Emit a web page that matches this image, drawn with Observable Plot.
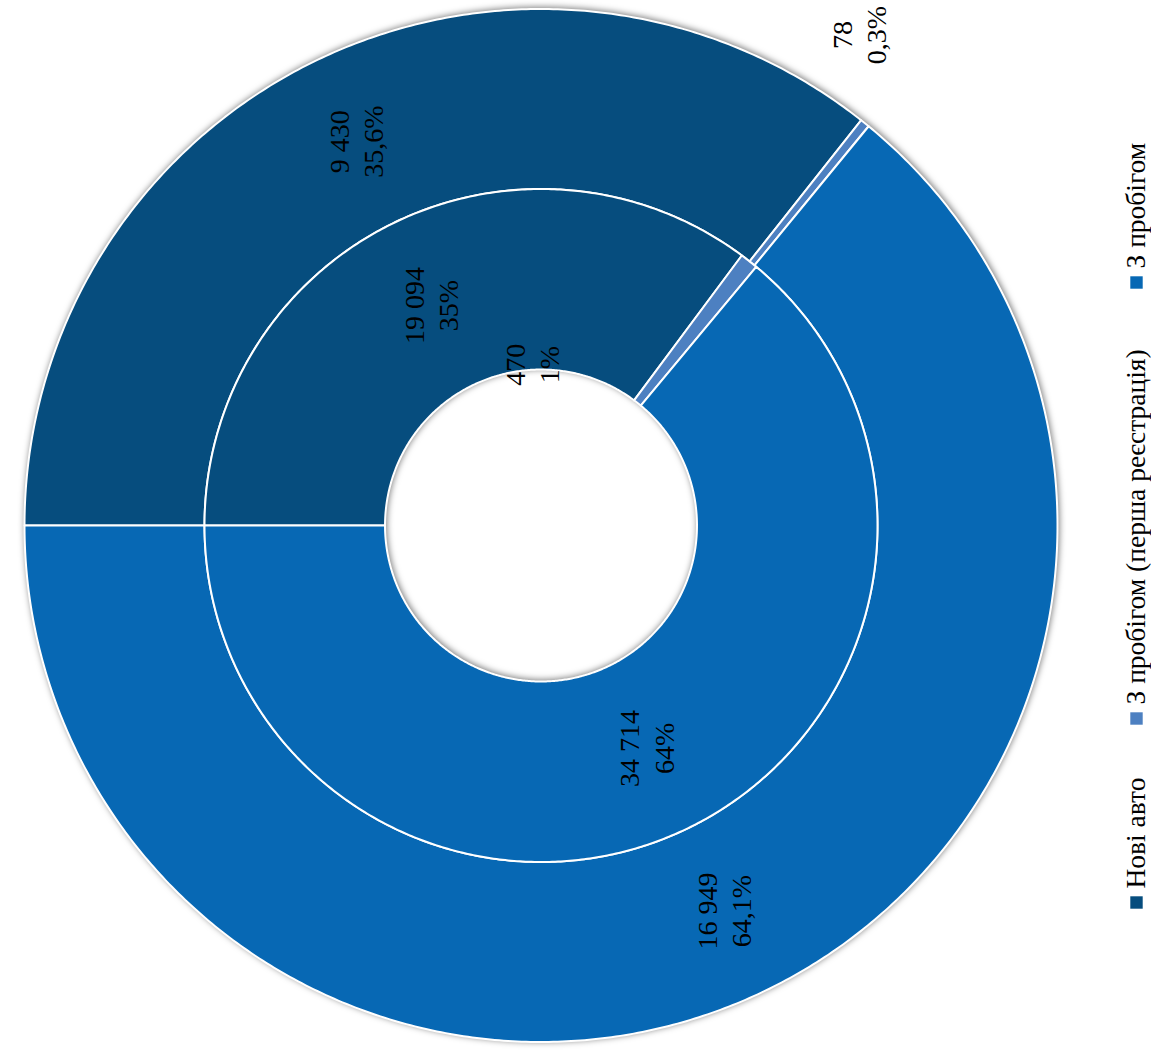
<!DOCTYPE html>
<html><head><meta charset="utf-8">
<script src="https://cdn.jsdelivr.net/npm/d3@7"></script>
<script src="https://cdn.jsdelivr.net/npm/@observablehq/plot@0.6"></script>
<style>
html,body{margin:0;padding:0;background:#fff;}
#chart svg{display:block;}
</style></head><body><div id="chart"></div>
<script>
// ---- data ----
const categories = ["Нові авто", "З пробігом (перша реєстрація)", "З пробігом"];
const innerValues = [19094, 470, 34714];   // inner ring
const outerValues = [9430, 78, 16949];     // outer ring
const innerPctDigits = 0;
const outerPctDigits = 1;
const colors = ["#064d7e", "#4d80c1", "#0768b4"];

// ---- layout ----
const W = 1151, H = 1050, CX = 540.5, CY = 525, R = 516.5;
const R_HOLE = 0.302, R_MID = 0.6515;
const FONT = "Liberation Serif, serif";
const toX = px => (px - CX) / R;
const toY = py => (CY - py) / R;

const loc = d3.formatLocale({decimal: ",", thousands: " ", grouping: [3], currency: ["", ""]});
const fmtNum = loc.format(",d");

// manual label moves (like the dragged labels of the original)
const labelMoves = {"inner-1": {r: 0.312, deg: 93.6}, "outer-1": {r: 1.131, deg: 57.1}};

function ring(values, r0, r1, name, digits) {
  const total = d3.sum(values);
  const polys = [], labels = [];
  let cum = 0;
  const pf = loc.format("." + digits + "f");
  values.forEach((v, i) => {
    const f0 = cum / total; cum += v; const f1 = cum / total;
    const n = Math.max(3, Math.ceil((f1 - f0) * 720));
    const id = name + "-" + i;
    const pts = [];
    for (let k = 0; k <= n; k++) {
      const t = Math.PI - 2 * Math.PI * (f0 + (f1 - f0) * k / n);
      pts.push({x: r1 * Math.cos(t), y: r1 * Math.sin(t)});
    }
    for (let k = n; k >= 0; k--) {
      const t = Math.PI - 2 * Math.PI * (f0 + (f1 - f0) * k / n);
      pts.push({x: r0 * Math.cos(t), y: r0 * Math.sin(t)});
    }
    pts.push({...pts[0]});
    pts.forEach(p => polys.push({...p, id, cat: categories[i]}));
    let rm = (r0 + r1) / 2, tm = Math.PI - 2 * Math.PI * (f0 + f1) / 2;
    if (labelMoves[id]) { rm = labelMoves[id].r; tm = labelMoves[id].deg * Math.PI / 180; }
    labels.push({x: rm * Math.cos(tm), y: rm * Math.sin(tm),
      text: fmtNum(v) + "\n" + pf(100 * v / total) + "%"});
  });
  return {polys, labels};
}

const inner = ring(innerValues, R_HOLE, R_MID, "inner", innerPctDigits);
const outer = ring(outerValues, R_MID, 1, "outer", outerPctDigits);

const legendSquareY = [902, 718, 282];
const legend = categories.map((c, i) => ({
  cat: c, x: toX(1136), y: toY(legendSquareY[i]), ty: toY(legendSquareY[i] - 14)
}));

const chart = Plot.plot({
  width: W, height: H, margin: 0,
  style: {fontFamily: FONT, background: "white"},
  x: {domain: [-1, 1], range: [CX - R, CX + R], axis: null},
  y: {domain: [-1, 1], range: [CY + R, CY - R], axis: null},
  color: {domain: categories, range: colors},
  marks: [
    Plot.line(outer.polys.concat(inner.polys), {
      x: "x", y: "y", z: "id", fill: "cat", stroke: "white", strokeWidth: 2, curve: "linear"
    }),
    Plot.text(outer.labels.concat(inner.labels), {
      x: "x", y: "y", text: "text", rotate: -90, fontSize: 28, lineHeight: 1.22,
      fill: "black", fontFamily: FONT
    }),
    Plot.dot(legend, {x: "x", y: "y", fill: "cat", symbol: "square", r: 7}),
    Plot.text(legend, {x: "x", y: "ty", text: "cat", rotate: -90, textAnchor: "start",
      fontSize: 27.5, fill: "black", fontFamily: FONT})
  ]
});
chart.querySelectorAll('g[aria-label="line"]').forEach(g => {
  g.style.filter = "drop-shadow(1px -1px 3px rgba(0,0,0,0.5))";
});
document.getElementById("chart").appendChild(chart);
</script></body></html>
